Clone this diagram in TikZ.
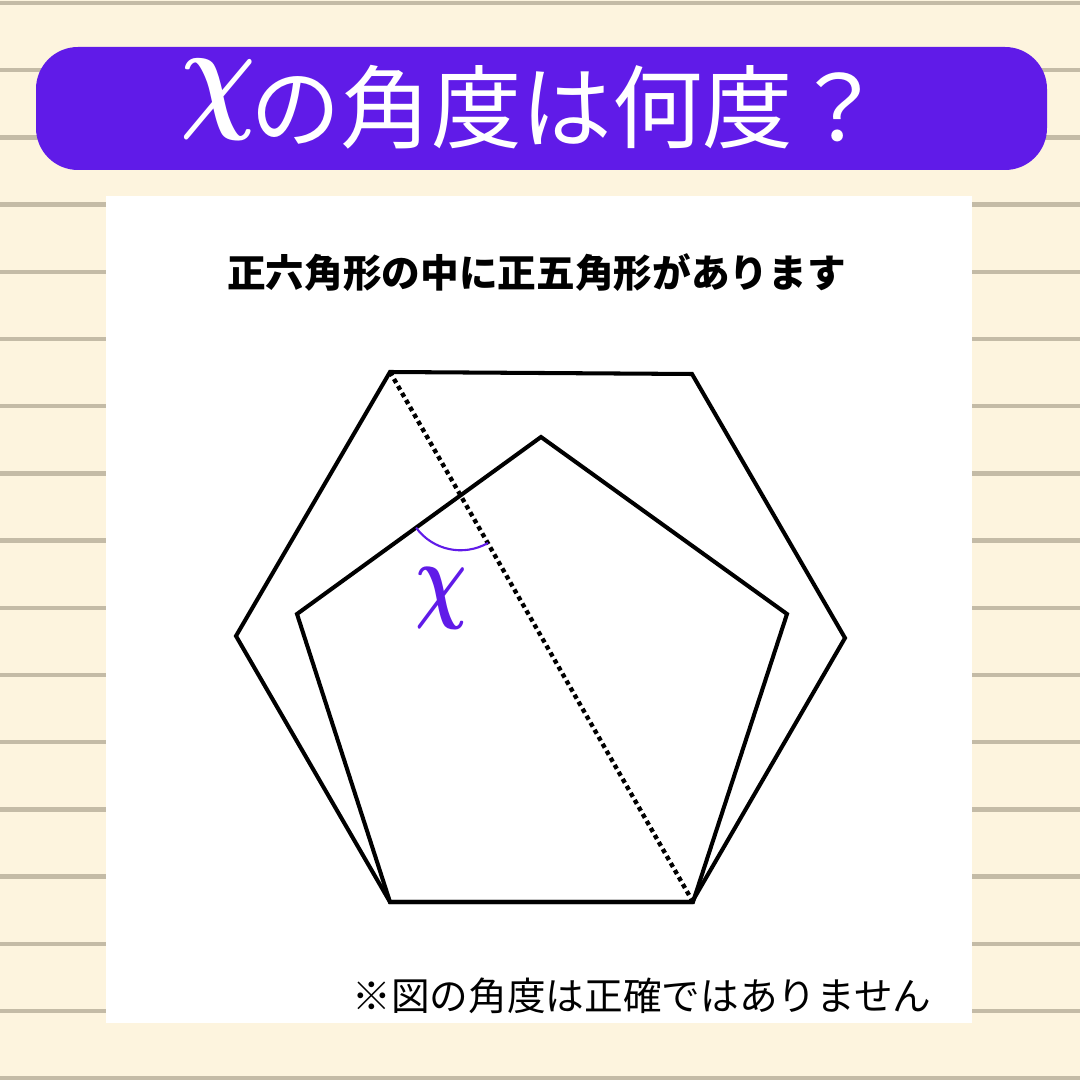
\documentclass[tikz,border=0pt]{standalone}
\usepackage{fontspec}
\usepackage{graphicx}
\usepackage{bm}
\usepackage{tikz}
\usetikzlibrary{calc}
\newfontfamily\jpfont{Noto Sans CJK JP}
\definecolor{creme}{RGB}{253,244,222}
\definecolor{pauta}{RGB}{196,187,166}
\definecolor{roxo}{RGB}{96,27,232}

\begin{document}
\begin{tikzpicture}[x=0.02cm, y=0.02cm,
  linha/.style={line width=2.3pt, line join=miter},
  pontilhado/.style={line width=2.5pt, dash pattern=on 2.5pt off 2.1pt},
  texto/.style={inner sep=0pt}]
  \useasboundingbox (0,0) rectangle (1080,1080);
  % fundo
  \fill[creme] (0,0) rectangle (1080,1080);
  % pautas
  \foreach \k in {0,...,16} \draw[pauta, line width=0.09cm] (0,{1077-67.2*\k}) -- (1080,{1077-67.2*\k});
  % titulo
  \fill[roxo, rounded corners=0.84cm] (36,910) rectangle (1047,1033);
  \node[texto, anchor=base west, text=white, font={\fontsize{51.5}{54}\selectfont\jpfont}] (titulo) at (250,938) {の角度は何度？};
  \node[texto, text=white] (xtitulo) at (218,980) {\scalebox{6.0}[7.2]{$\bm{\chi}$}};
  % quadro
  \fill[white] (106,57) rectangle (972,884);
  \node[texto, anchor=base, font={\fontsize{22}{24}\selectfont\jpfont\bfseries}] (enunciado) at (536.5,792) {正六角形の中に正五角形があります};
  % vertices
  \coordinate (A) at (390,708);
  \coordinate (B) at (692,706);
  \coordinate (C) at (845,442);
  \coordinate (D) at (692,178);
  \coordinate (E) at (390,178);
  \coordinate (F) at (236,444);
  \coordinate (P1) at (541,643);
  \coordinate (P2) at (787,466);
  \coordinate (P3) at (693,178);
  \coordinate (P4) at (390,178);
  \coordinate (P5) at (297,466);
  % hexagono e pentagono
  \draw[linha] (A) -- (B) -- (C) -- (D) -- (E) -- (F) -- cycle;
  \draw[linha] (P1) -- (P2) -- (P3) -- (P4) -- (P5) -- cycle;
  \draw[pontilhado] (A) -- (P3);
  % angulo x
  \coordinate (I) at (intersection of A--P3 and P5--P1);
  \draw[roxo, line width=1.2pt] ($(I)!1.1cm!(P5)$) arc[start angle=216, end angle=300, radius=1.1cm];
  \node[texto, text=roxo] (xangulo) at (441,482) {\scalebox{4.1}[5.5]{$\bm{\chi}$}};
  % aviso
  \node[texto, anchor=base, font={\fontsize{22}{24}\selectfont\jpfont}] (aviso) at (642,70) {※図の角度は正確ではありません};
\end{tikzpicture}
\end{document}
